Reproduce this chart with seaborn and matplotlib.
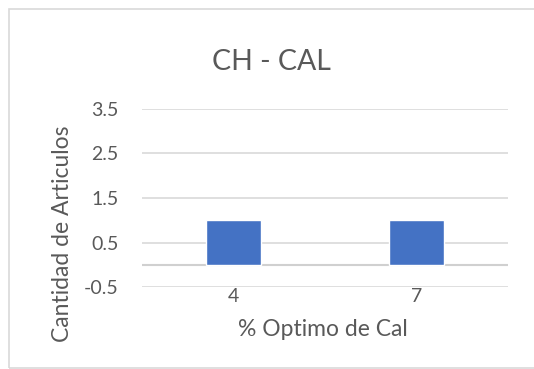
import matplotlib
matplotlib.use("Agg")
import matplotlib.pyplot as plt
import seaborn as sns
import pandas as pd
from matplotlib.patches import Rectangle

categories = ["4", "7"]
values = [1, 1]
y_ticks = [-0.5, 0.5, 1.5, 2.5, 3.5]

title = "CH - CAL"
x_label = "% Optimo de Cal"
y_label = "Cantidad de Articulos"

sns.set_theme(style="white")
plt.rcParams["font.family"] = ["Lato", "DejaVu Sans"]

text_color = "#595959"
grid_color = "#d9d9d9"
bar_color = "#4472c4"

df = pd.DataFrame({"cat": categories, "val": values})

fig = plt.figure(figsize=(5.34, 3.69), dpi=100)
ax = fig.add_axes([0.266, 0.222, 0.685, 0.483])

sns.barplot(data=df, x="cat", y="val", color=bar_color, width=0.3,
            saturation=1, ax=ax, zorder=3)

ax.set_ylim(-0.5, 3.5)
ax.set_xlim(-0.5, 1.5)
ax.set_yticks(y_ticks)
ax.set_yticklabels([f"{t:g}" for t in y_ticks])
for t in y_ticks:
    ax.axhline(t, color=grid_color, lw=1.2, zorder=1)
ax.axhline(0, color="#d0d0d0", lw=1.5, zorder=2)

for s in ax.spines.values():
    s.set_visible(False)
ax.tick_params(axis="both", length=0, labelsize=14, colors=text_color)
ax.tick_params(axis="y", pad=17)
ax.tick_params(axis="x", pad=1)

ax.set_xlabel(x_label, fontsize=16.5, color=text_color)
ax.xaxis.set_label_coords(0.495, -0.18)
ax.set_ylabel(y_label, fontsize=16.5, color=text_color)
ax.yaxis.set_label_coords(-0.19, 0.30)

fig.text(0.509, 0.832, title, ha="center", va="center", fontsize=20.5,
         color=text_color)

fig.patches.append(Rectangle((9 / 534, 1 / 369), 1.2, 359 / 369,
                             transform=fig.transFigure, fill=False,
                             edgecolor="#d9d9d9", lw=1.2))

fig.savefig("out.png", dpi=100)
